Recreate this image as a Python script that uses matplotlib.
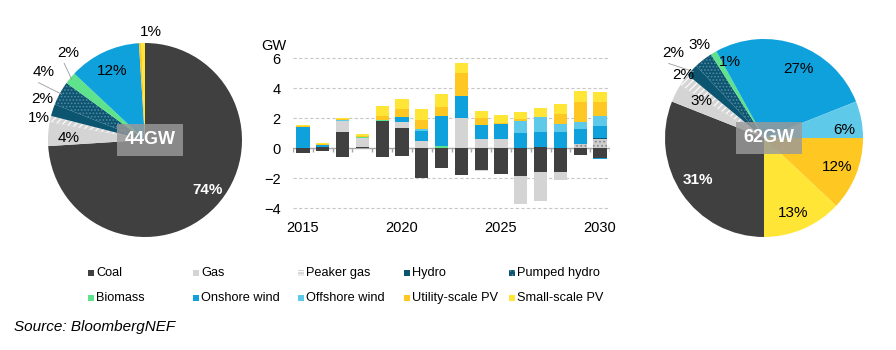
import numpy as np
import matplotlib
matplotlib.use("Agg")
import matplotlib.pyplot as plt
from matplotlib.patches import Rectangle

plt.rcParams['font.family'] = ['Liberation Sans', 'DejaVu Sans']
plt.rcParams['hatch.linewidth'] = 0.8

# ---- data ----
categories = ['Coal', 'Gas', 'Peaker gas', 'Hydro', 'Pumped hydro',
              'Biomass', 'Onshore wind', 'Offshore wind', 'Utility-scale PV', 'Small-scale PV']
colors = ['#404040', '#d4d4d4', '#d4d4d4', '#0b5570', '#0d5470',
          '#5ee38c', '#0ea1dc', '#5ec9e9', '#fec721', '#ffe536']

years = np.arange(2015, 2031)

# positive additions (GW)
coal_pos     = [0, 0.05, 1.05, 0.05, 1.78, 1.32, 0, 0, 0, 0, 0, 0, 0.05, 0, 0, 0]
gas_pos      = [0, 0, 0.75, 0.6, 0, 0.4, 0.48, 0, 2.0, 0.62, 0.62, 0, 0, 0, 0, 0]
pumped_pos   = [0, 0, 0, 0, 0, 0, 0, 0, 0, 0, 0, 0, 0, 0, 0.24, 0.62]
hydro_pos    = [0, 0, 0, 0, 0, 0, 0, 0, 0, 0, 0, 0, 0, 0, 0.06, 0.06]
biomass_pos  = [0, 0, 0, 0.1, 0.07, 0, 0, 0.13, 0, 0, 0, 0, 0, 0, 0, 0]
onshore_pos  = [1.38, 0.15, 0, 0, 0, 0.33, 0.68, 1.98, 1.5, 0.92, 1.0, 1.0, 1.0, 1.08, 0.95, 0.8]
offshore_pos = [0, 0, 0.06, 0, 0, 0.05, 0.08, 0, 0, 0, 0, 0.8, 1.0, 0.55, 0.5, 0.64]
utility_pos  = [0.08, 0.06, 0.05, 0.08, 0.26, 0.5, 0.6, 0.6, 1.52, 0.46, 0.05, 0.15, 0, 0.62, 1.35, 0.94]
small_pos    = [0.05, 0.07, 0.06, 0.1, 0.7, 0.68, 0.77, 0.9, 0.64, 0.5, 0.5, 0.45, 0.62, 0.66, 0.72, 0.7]

# retirements (GW)
coal_neg    = [-0.35, -0.22, -0.62, 0, -0.62, -0.53, -2.0, -1.34, -1.8, -1.45, -1.76, -1.85, -1.6, -1.6, -0.48, -0.66]
gas_neg     = [0, 0, 0, 0, 0, 0, 0, 0, 0, -0.06, 0, -1.9, -1.9, -0.5, 0, 0]
onshore_neg = [0, 0, 0, 0, 0, 0, 0, 0, 0, 0, 0, 0, -0.06, -0.05, 0, -0.05]

# pies (%)
pie_2015 = [74, 4, 1, 2, 4, 2, 12, 0, 0.4, 0.6]
lab_2015 = ['74%', '4%', '1%', '2%', '4%', '2%', '12%', '', '', '1%']
pie_2030 = [31, 3, 2, 2, 3, 1, 27, 6, 12, 13]
lab_2030 = ['31%', '3%', '2%', '2%', '3%', '1%', '27%', '6%', '12%', '13%']

W, H = 896, 350
fig = plt.figure(figsize=(W / 100, H / 100), dpi=100)


def px_axes(x0, y0, x1, y1):
    return fig.add_axes([x0 / W, 1 - y1 / H, (x1 - x0) / W, (y1 - y0) / H])


# ---- bar chart ----
ax = px_axes(293, 55.75, 610, 210.25)
pos_series = [(coal_pos, 0), (gas_pos, 1), (pumped_pos, 4), (hydro_pos, 3), (biomass_pos, 5),
              (onshore_pos, 6), (offshore_pos, 7), (utility_pos, 8), (small_pos, 9)]
bw = 0.67
bottom = np.zeros(len(years))
for vals, ci in pos_series:
    vals = np.array(vals)
    if ci == 4:
        ax.bar(years, vals, bw, bottom=bottom, facecolor='#cdcdcd', edgecolor='#8a8a8a',
               hatch='....', linewidth=0, zorder=3)
    else:
        ax.bar(years, vals, bw, bottom=bottom, color=colors[ci], linewidth=0, zorder=3)
    bottom += vals
bottom = np.zeros(len(years))
for vals, ci in [(coal_neg, 0), (gas_neg, 1), (onshore_neg, 6)]:
    vals = np.array(vals)
    ax.bar(years, vals, bw, bottom=bottom, color=colors[ci], linewidth=0, zorder=3)
    bottom += vals

ax.set_xlim(2014.5, 2030.5)
ax.set_ylim(-4.15, 6.15)
ax.set_yticks([-4, -2, 0, 2, 4, 6])
ax.set_xticks([2015, 2020, 2025, 2030])
for y in [-4, -2, 2, 4, 6]:
    ax.axhline(y, color='#c8c8c8', lw=0.8, ls=(0, (3, 2)), zorder=1)
ax.axhline(0, color='#a6a6a6', lw=1.0, zorder=2)
ax.vlines(np.arange(2014.5, 2031, 1), -0.27, 0, color='#a6a6a6', lw=1.0, zorder=2)
for s in ax.spines.values():
    s.set_visible(False)
ax.tick_params(length=0, labelsize=10.5, pad=8)
ax.tick_params(axis='y', pad=9)
fig.text(274 / W, 1 - 46 / H, 'GW', ha='center', va='center', fontsize=10.5)


# ---- pies ----
def draw_pie(box, vals, labels, start, specs, center_text):
    pa = px_axes(*box)
    wedges, _ = pa.pie(vals, startangle=start, counterclock=False, colors=colors,
                       wedgeprops=dict(linewidth=0))
    wedges[2].set_hatch('/////')
    wedges[2].set_edgecolor('white')
    wedges[4].set_hatch('.....')
    wedges[4].set_edgecolor('#4f8aa3')
    pa.set_xlim(-1, 1)
    pa.set_ylim(-1, 1)
    for w, lab, (r, dt, col, wt, lead) in zip(wedges, labels, specs):
        if not lab:
            continue
        mid = np.deg2rad((w.theta1 + w.theta2) / 2 + dt)
        tx, ty = r * np.cos(mid), r * np.sin(mid)
        pa.text(tx, ty, lab, ha='center', va='center', fontsize=11, color=col,
                fontweight=wt, clip_on=False)
        if lead:
            m0 = np.deg2rad((w.theta1 + w.theta2) / 2)
            pa.plot([0.98 * np.cos(m0), tx + 0.06 * np.cos(mid)],
                    [0.98 * np.sin(m0), ty - 0.11], color='#9a9a9a', lw=0.6, clip_on=False)
    pa.text(0.05, 0, center_text, ha='center', va='center', fontsize=13, fontweight='bold',
            color='white', bbox=dict(boxstyle='square,pad=0.4', facecolor='#9a9a9a',
                                     edgecolor='none', alpha=0.82))


k, w_ = 'black', 'white'
specs_2015 = [(0.83, 4.5, w_, 'bold', False), (0.79, 2, k, 'normal', False),
              (1.12, 1, k, 'normal', False), (1.14, -4, k, 'normal', False),
              (1.26, -5, k, 'normal', True), (1.20, -9, k, 'normal', True),
              (0.79, 0, k, 'normal', False), (0, 0, k, 'normal', False),
              (0, 0, k, 'normal', False), (1.11, -4, k, 'normal', False)]
specs_2030 = [(0.79, -2, w_, 'bold', False), (0.73, -3.4, k, 'normal', False),
              (1.04, -2, k, 'normal', False), (1.26, 0, k, 'normal', True),
              (1.15, -3, k, 'normal', False), (0.84, -6.6, k, 'normal', False),
              (0.78, -7, k, 'normal', False), (0.81, -5, k, 'normal', False),
              (0.79, 0, k, 'normal', False), (0.81, -2, k, 'normal', False)]
draw_pie((48, 43, 242, 237), pie_2015, lab_2015, 90, specs_2015, '44GW')
draw_pie((665, 39, 863, 237), pie_2030, lab_2030, -90, specs_2030, '62GW')

# ---- legend ----
for i, name in enumerate(categories):
    col, row = i % 5, i // 5
    x = 88 + col * 105.2
    y = 273.3 + row * 24.5
    fc = colors[i]
    hatch, ec = None, 'none'
    if i == 2:
        hatch, ec = '-----', 'white'
    if i == 4:
        hatch, ec = '....', '#4f8aa3'
    fig.patches.append(Rectangle((x / W, 1 - (y + 3) / H), 6 / W, 6 / H, transform=fig.transFigure,
                                 facecolor=fc, edgecolor=ec, hatch=hatch, linewidth=0))
    fig.text((x + 8) / W, 1 - y / H, name, ha='left', va='center', fontsize=9.2)

fig.text(14 / W, 1 - 327 / H, 'Source: BloombergNEF', ha='left', va='center',
         fontsize=11, style='italic')

fig.savefig('out.png', dpi=100)
